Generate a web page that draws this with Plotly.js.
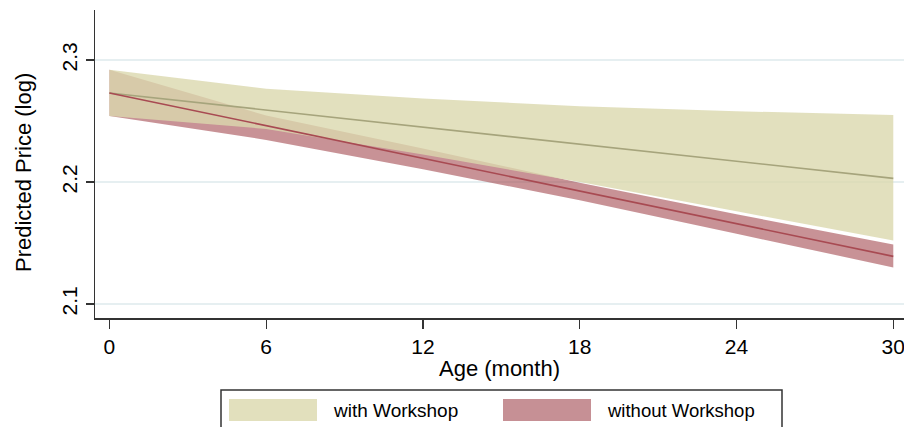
<!DOCTYPE html>
<html>
<head>
<meta charset="utf-8">
<script src="https://cdn.plot.ly/plotly-3.0.1.min.js"></script>
<style>
html,body{margin:0;padding:0;background:#fff;}
#chart{width:904px;height:427px;}
</style>
</head>
<body>
<div id="chart"></div>
<script>
// Data
const age = [0, 6, 12, 18, 24, 30];
const withFit   = [2.273, 2.259, 2.245, 2.231, 2.217, 2.203];
const withUpper = [2.292, 2.2765, 2.2685, 2.262, 2.258, 2.255];
const withLower = [2.254, 2.2435, 2.2225, 2.2000, 2.176, 2.152];
const withoutFit   = [2.273, 2.2462, 2.2194, 2.1925, 2.1657, 2.139];
const withoutUpper = [2.292, 2.2545, 2.2275, 2.1993, 2.1735, 2.1488];
const withoutLower = [2.254, 2.2345, 2.2105, 2.1850, 2.1575, 2.1300];
const xTicks = [0, 6, 12, 18, 24, 30];
const yTicks = [2.1, 2.2, 2.3];
const seriesNames = ["with Workshop", "without Workshop"];
const xTitle = "Age (month)";
const yTitle = "Predicted Price (log)";

const tanFill = "rgba(219,216,174,0.8)";
const pinkFill = "rgba(163,73,80,0.6)";
const tanLine = "#a6a47c";
const pinkLine = "#a84a52";

const traces = [
  {x: age, y: withoutLower, mode: "lines", line: {width: 0}, hoverinfo: "skip", showlegend: false},
  {x: age, y: withoutUpper, mode: "lines", line: {width: 0}, fill: "tonexty", fillcolor: pinkFill, name: seriesNames[1], showlegend: false},
  {x: age, y: withLower, mode: "lines", line: {width: 0}, hoverinfo: "skip", showlegend: false},
  {x: age, y: withUpper, mode: "lines", line: {width: 0}, fill: "tonexty", fillcolor: tanFill, name: seriesNames[0], showlegend: false},
  {x: age, y: withFit, mode: "lines", line: {color: tanLine, width: 1.6}, showlegend: false},
  {x: age, y: withoutFit, mode: "lines", line: {color: pinkLine, width: 1.6}, showlegend: false}
];

// plot area: px 95..904 horizontally, 10..318 vertically
const px = v => (v - 95) / 809;
const py = v => (318 - v) / 308;
const font = "Liberation Sans, Arial, Helvetica, sans-serif";

const layout = {
  width: 904, height: 427,
  margin: {l: 95, r: 0, t: 10, b: 109},
  paper_bgcolor: "#ffffff",
  plot_bgcolor: "#ffffff",
  showlegend: false,
  font: {family: font, color: "#000"},
  xaxis: {
    range: [-0.551, 30.41],
    tickvals: xTicks, ticktext: xTicks.map(String),
    ticklabeloverflow: "allow",
    ticks: "outside", ticklen: 9, tickwidth: 1.2, tickcolor: "#333",
    showline: true, linecolor: "#333", linewidth: 1.5,
    showgrid: false, zeroline: false,
    tickfont: {size: 21, family: font, color: "#000"},
    title: {text: xTitle, font: {size: 22, family: font, color: "#000"}, standoff: 4}
  },
  yaxis: {
    range: [2.0885, 2.341],
    tickvals: yTicks, ticktext: ["2.1", "2.2", "2.3"],
    tickangle: -90,
    ticks: "outside", ticklen: 8, tickwidth: 1.2, tickcolor: "#333",
    showline: true, linecolor: "#333", linewidth: 1.5,
    showgrid: true, gridcolor: "#e6eff1", gridwidth: 1.2,
    zeroline: false,
    tickfont: {size: 21, family: font, color: "#000"}
  },
  shapes: [
    {type: "rect", xref: "paper", yref: "paper", x0: px(221), x1: px(782), y0: py(390), y1: py(440),
     line: {color: "#333", width: 1.5}, fillcolor: "#ffffff", layer: "below"},
    {type: "rect", xref: "paper", yref: "paper", x0: px(229), x1: px(317), y0: py(399), y1: py(421),
     line: {width: 0}, fillcolor: "#e2e0bd"},
    {type: "rect", xref: "paper", yref: "paper", x0: px(503), x1: px(591), y0: py(399), y1: py(421),
     line: {width: 0}, fillcolor: "#c69095"}
  ],
  annotations: [
    {xref: "paper", yref: "paper", x: px(23), y: py(173), xanchor: "center", yanchor: "middle",
     textangle: -90, text: yTitle, showarrow: false, font: {size: 22, family: font, color: "#000"}},
    {xref: "paper", yref: "paper", x: px(331), y: py(410), xanchor: "left", yanchor: "middle",
     text: seriesNames[0], showarrow: false, font: {size: 19, family: font, color: "#000"}},
    {xref: "paper", yref: "paper", x: px(605), y: py(410), xanchor: "left", yanchor: "middle",
     text: seriesNames[1], showarrow: false, font: {size: 18.5, family: font, color: "#000"}}
  ]
};

Plotly.newPlot("chart", traces, layout, {displayModeBar: false, staticPlot: true});
</script>
</body>
</html>
